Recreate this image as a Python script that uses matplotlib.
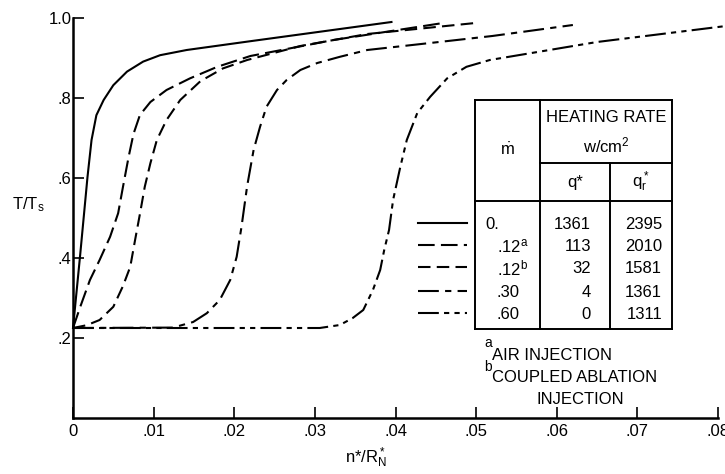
import matplotlib
matplotlib.use("Agg")
import matplotlib.pyplot as plt
from matplotlib.lines import Line2D

plt.rcParams['font.family'] = ['Liberation Sans', 'DejaVu Sans']
plt.rcParams['mathtext.fontset'] = 'custom'
plt.rcParams['mathtext.rm'] = 'Liberation Sans'
plt.rcParams['mathtext.it'] = 'Liberation Sans'

W, H = 725, 474

# curves: n*/R*_N vs T/T_s
x_m0 = [0, 0.0009, 0.0018, 0.0023, 0.0029, 0.0038, 0.005, 0.0067, 0.0087, 0.0108, 0.0141,
        0.022, 0.0395]
y_m0 = [0.225, 0.41, 0.603, 0.695, 0.757, 0.795, 0.832, 0.866, 0.891, 0.907, 0.92,
        0.942, 0.99]

x_m12a = [0, 0.0009, 0.0021, 0.0033, 0.0046, 0.0056, 0.0062, 0.0069, 0.0075, 0.0083, 0.0096,
          0.0116, 0.0145, 0.0179, 0.022, 0.0323, 0.0459]
y_m12a = [0.225, 0.278, 0.345, 0.395, 0.453, 0.512, 0.578, 0.653, 0.71, 0.7575, 0.79,
          0.82, 0.849, 0.878, 0.905, 0.945, 0.9875]

x_m12b = [0, 0.0017, 0.0033, 0.005, 0.0062, 0.0071, 0.0077, 0.0083, 0.0089, 0.0096, 0.0104,
          0.0116, 0.0133, 0.0158, 0.0186, 0.0216, 0.0282, 0.0365, 0.0499]
y_m12b = [0.225, 0.232, 0.245, 0.278, 0.33, 0.378, 0.445, 0.51, 0.578, 0.637, 0.695,
          0.745, 0.795, 0.842, 0.874, 0.895, 0.93, 0.96, 0.9875]

x_m30 = [0, 0.0124, 0.0149, 0.0166, 0.0182, 0.0195, 0.0203, 0.0209, 0.0216, 0.0224, 0.0232,
         0.024, 0.0253, 0.0265, 0.0282, 0.0303, 0.0331, 0.0365, 0.0443, 0.052, 0.062]
y_m30 = [0.225, 0.226, 0.24, 0.262, 0.295, 0.345, 0.403, 0.478, 0.58, 0.67, 0.728,
         0.778, 0.82, 0.845, 0.87, 0.8875, 0.903, 0.92, 0.9375, 0.955, 0.9825]

x_m60 = [0, 0.0306, 0.0331, 0.0347, 0.036, 0.0372, 0.0381, 0.0386, 0.0392, 0.0397, 0.0406,
         0.0414, 0.0427, 0.0443, 0.0464, 0.0488, 0.0517, 0.065, 0.081]
y_m60 = [0.225, 0.225, 0.2325, 0.25, 0.27, 0.32, 0.37, 0.42, 0.47, 0.545, 0.628,
         0.695, 0.7625, 0.803, 0.849, 0.878, 0.895, 0.94, 0.98]

curves = [(x_m0, y_m0), (x_m12a, y_m12a), (x_m12b, y_m12b), (x_m30, y_m30), (x_m60, y_m60)]
styles = ['-', (0, (8, 3)), (0, (6, 3)), (0, (10, 3, 3, 3)), (0, (10, 2.5, 2.5, 2.5, 2.5, 2.5))]

# table contents
mdot = ['0.', '.12$^{\\rm a}$', '.12$^{\\rm b}$', '.30', '.60']
q_star = ['1361', '113', '32', '4', '0']
q_r = ['2395', '2010', '1581', '1361', '1311']

xticks = [0, 0.01, 0.02, 0.03, 0.04, 0.05, 0.06, 0.07, 0.08]
xticklabels = ['0', '.01', '.02', '.03', '.04', '.05', '.06', '.07', '.08']
yticks = [0.2, 0.4, 0.6, 0.8, 1.0]
yticklabels = ['.2', '.4', '.6', '.8', '1.0']


def px(x, y):
    return x / W, 1 - y / H


fig = plt.figure(figsize=(7.25, 4.74), dpi=100)
ax = fig.add_axes([73 / W, 1 - 418 / H, 645 / W, 400 / H])

lw = 1.5
for (xs, ys), ls in zip(curves, styles):
    ax.plot(xs, ys, color='black', lw=lw, linestyle=ls, clip_on=False)

ax.set_xlim(0, 0.08)
ax.set_ylim(0, 1.0)
ax.spines['top'].set_visible(False)
ax.spines['right'].set_visible(False)
for s in ['left', 'bottom']:
    ax.spines[s].set_linewidth(1.8)
ax.set_xticks(xticks)
ax.set_xticklabels(xticklabels)
ax.set_yticks(yticks)
ax.set_yticklabels(yticklabels)
ax.tick_params(direction='in', length=8, width=1.2, labelsize=12, pad=4)
ax.tick_params(axis='y', pad=1)

ax.set_ylabel('T/T$_{\\rm s}$', rotation=0, fontsize=12)
ax.yaxis.set_label_coords(-0.07, 0.51)
ax.set_xlabel('n*/R$^*_{\\rm N}$', fontsize=12)
ax.xaxis.set_label_coords(0.455, -0.07)

# table
tl = 1.4
def seg(x0, y0, x1, y1, **kw):
    (a, b), (c, d) = px(x0, y0), px(x1, y1)
    kw.setdefault('color', 'black')
    kw.setdefault('lw', tl)
    fig.add_artist(Line2D([a, c], [b, d], **kw))

seg(475, 100, 672, 100)
seg(475, 329, 672, 329)
seg(475, 100, 475, 329)
seg(672, 100, 672, 329)
seg(540, 100, 540, 329)
seg(540, 163, 672, 163)
seg(610, 163, 610, 329)
seg(475, 201, 672, 201)

fs = 12
fig.text(*px(606, 117), 'HEATING RATE', ha='center', va='center', fontsize=fs)
fig.text(*px(606, 145), 'w/cm$^2$', ha='center', va='center', fontsize=fs)
fig.text(*px(507, 150), '$\\dot{\\rm m}$', ha='center', va='center', fontsize=fs)
fig.text(*px(575, 182), 'q*', ha='center', va='center', fontsize=fs)
fig.text(*px(641, 182), 'q$^*_{\\rm r}$', ha='center', va='center', fontsize=fs)

row_y = [223, 245, 267, 291, 313]
for i, yy in enumerate(row_y):
    fig.add_artist(Line2D([418 / W, 467 / W], [1 - yy / H] * 2, color='black',
                          lw=lw, linestyle=styles[i]))
    xm = 485 if i == 0 else 497
    fig.text(*px(xm, yy), mdot[i], ha='left', va='center_baseline', fontsize=fs)
    fig.text(*px(591, yy), q_star[i], ha='right', va='center_baseline', fontsize=fs)
    fig.text(*px(662, yy), q_r[i], ha='right', va='center_baseline', fontsize=fs)

fig.text(*px(484, 343), 'a', ha='left', va='center', fontsize=10)
fig.text(*px(492, 355), 'AIR INJECTION', ha='left', va='center', fontsize=fs)
fig.text(*px(484, 367), 'b', ha='left', va='center', fontsize=10)
fig.text(*px(492, 378), 'COUPLED ABLATION', ha='left', va='center', fontsize=fs)
fig.text(*px(580, 400), 'INJECTION', ha='center', va='center', fontsize=fs)

fig.savefig('out.png', dpi=100)
